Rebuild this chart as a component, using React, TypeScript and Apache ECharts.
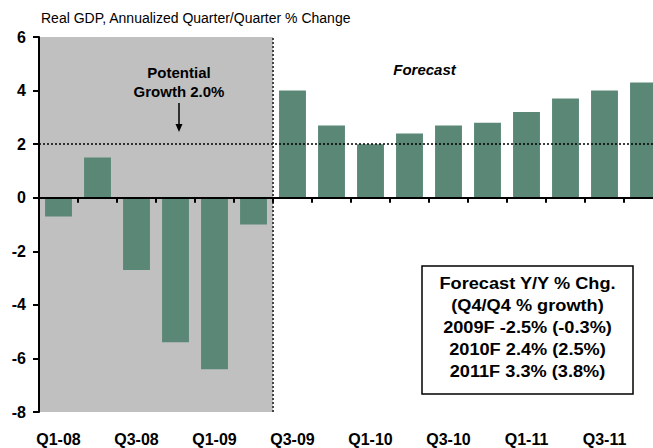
import React, { useEffect, useRef } from "react";
import * as echarts from "echarts";

const categories = [
  "Q1-08", "Q2-08", "Q3-08", "Q4-08",
  "Q1-09", "Q2-09", "Q3-09", "Q4-09",
  "Q1-10", "Q2-10", "Q3-10", "Q4-10",
  "Q1-11", "Q2-11", "Q3-11", "Q4-11",
];
const gdpChange = [-0.7, 1.5, -2.7, -5.4, -6.4, -1.0, 4.0, 2.7, 2.0, 2.4, 2.7, 2.8, 3.2, 3.7, 4.0, 4.3];
const historyCount = 6; // actual quarters (shaded)
const potentialGrowth = 2.0;
const yMin = -8;
const yMax = 6;
const yStep = 2;
const titleText = "Real GDP, Annualized Quarter/Quarter % Change";
const potentialText = "Potential\nGrowth 2.0%";
const forecastText = "Forecast";
const boxLines = [
  "Forecast Y/Y % Chg.",
  "(Q4/Q4 % growth)",
  "2009F -2.5% (-0.3%)",
  "2010F 2.4% (2.5%)",
  "2011F 3.3% (3.8%)",
];

const FONT = "'Liberation Sans', Arial, Helvetica, sans-serif";
const BAR = "#5B8777";

export default function App() {
  const ref = useRef<HTMLDivElement>(null);
  useEffect(() => {
    if (!ref.current) return;
    const chart = echarts.init(ref.current, null, { renderer: "svg" });
    chart.setOption({
      animation: false,
      backgroundColor: "#ffffff",
      textStyle: { fontFamily: FONT },
      grid: {
        left: 39,
        width: 624,
        top: 37,
        bottom: 36,
        containLabel: false,
        outerBoundsMode: "none",
      },
      xAxis: [
        {
          type: "category",
          data: categories,
          boundaryGap: true,
          z: 10,
          axisLine: { show: true, onZero: true, lineStyle: { color: "#000", width: 2 } },
          axisTick: {
            show: true,
            interval: 0,
            alignWithLabel: false,
            inside: false,
            length: 5,
            lineStyle: { color: "#000", width: 2 },
          },
          axisLabel: { show: false, interval: 0 },
          splitLine: { show: false },
        },
        {
          type: "category",
          data: categories,
          position: "bottom",
          axisLine: { show: false, onZero: false },
          axisTick: { show: false },
          axisLabel: {
            show: true,
            interval: 1,
            margin: 19,
            color: "#000",
            fontWeight: "bold",
            fontSize: 16,
            fontFamily: FONT,
          },
          splitLine: { show: false },
        },
        {
          type: "value",
          min: 0,
          max: categories.length,
          show: false,
        },
      ],
      yAxis: {
        type: "value",
        min: yMin,
        max: yMax,
        interval: yStep,
        z: 10,
        axisLine: { show: true, lineStyle: { color: "#000", width: 2 } },
        axisTick: { show: true, length: 6, lineStyle: { color: "#000", width: 2 } },
        axisLabel: {
          margin: 13,
          color: "#000",
          fontWeight: "bold",
          fontSize: 16,
          fontFamily: FONT,
        },
        splitLine: { show: false },
      },
      series: [
        {
          name: "history",
          type: "line",
          xAxisIndex: 2,
          data: [],
          z: 0,
          silent: true,
          markArea: {
            silent: true,
            itemStyle: { color: "#C0C0C0", opacity: 1 },
            data: [[{ xAxis: 0 }, { xAxis: historyCount }]],
          },
        },
        {
          name: "GDP",
          type: "bar",
          xAxisIndex: 0,
          data: gdpChange,
          barCategoryGap: "31%",
          itemStyle: { color: BAR },
          z: 2,
        },
        {
          name: "refs",
          type: "line",
          xAxisIndex: 2,
          data: [],
          z: 5,
          silent: true,
          markLine: {
            silent: true,
            symbol: "none",
            label: { show: false },
            data: [
              { xAxis: historyCount, lineStyle: { color: "#444", width: 2, type: [2, 2] } },
              { yAxis: potentialGrowth, lineStyle: { color: "#000", width: 1.5, type: [2, 2] } },
            ],
          },
        },
      ],
      graphic: [
        {
          type: "text",
          left: 41,
          top: 11,
          z: 20,
          style: { text: titleText, font: `14px ${FONT}`, fill: "#000" },
        },
        {
          type: "text",
          x: 179,
          y: 82,
          z: 20,
          style: {
            text: potentialText,
            font: `bold 15px ${FONT}`,
            fill: "#000",
            align: "center",
            verticalAlign: "middle",
            lineHeight: 19.5,
          },
        },
        {
          type: "line",
          z: 20,
          shape: { x1: 179, y1: 103, x2: 179, y2: 126 },
          style: { stroke: "#000", lineWidth: 1.5 },
        },
        {
          type: "polygon",
          z: 20,
          shape: { points: [[175.5, 124], [182.5, 124], [179, 132]] },
          style: { fill: "#000" },
        },
        {
          type: "text",
          x: 424.5,
          y: 69.5,
          z: 20,
          style: {
            text: forecastText,
            font: `italic bold 15px ${FONT}`,
            fill: "#000",
            align: "center",
            verticalAlign: "middle",
          },
        },
        {
          type: "rect",
          z: 20,
          shape: { x: 422, y: 266, width: 211, height: 128 },
          style: { fill: "#fff", stroke: "#000", lineWidth: 1.5 },
        },
        {
          type: "text",
          x: 527.5,
          y: 327.5,
          scaleX: 1.07,
          z: 21,
          style: {
            text: boxLines.join("\n"),
            font: `bold 17px ${FONT}`,
            fill: "#000",
            align: "center",
            verticalAlign: "middle",
            lineHeight: 22,
          },
        },
      ],
    });
    return () => chart.dispose();
  }, []);
  return (
    <div
      ref={ref}
      style={{ position: "fixed", left: 0, top: 0, width: 653, height: 448, overflow: "hidden" }}
    />
  );
}
